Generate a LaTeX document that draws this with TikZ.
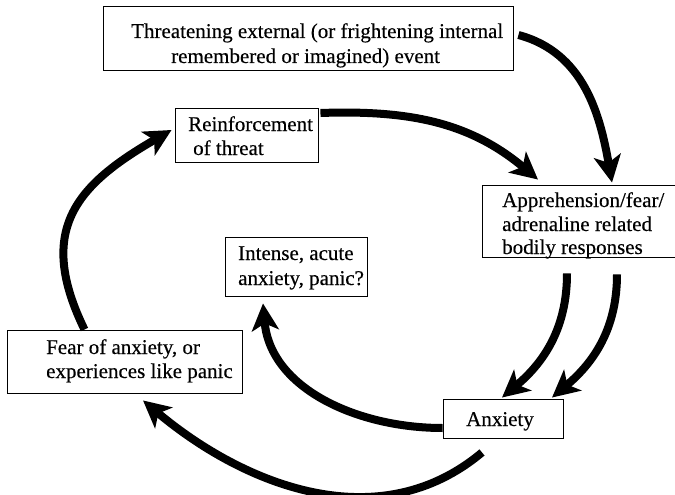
\documentclass[tikz,border=0pt]{standalone}
\usepackage{fontspec}
\setmainfont{Liberation Serif}
\newfontfamily\boxfont{Liberation Serif}[FakeBold=0.35]
\usetikzlibrary{arrows.meta}
\begin{document}
\begin{tikzpicture}[x=1pt,y=-1pt,
  box/.style={draw, line width=0.9pt, rectangle, inner sep=0pt},
  txt/.style={anchor=base west, inner sep=0pt, font=\boxfont\fontsize{21}{25}\selectfont},
  flow/.style={line width=8pt, -{Stealth[length=27pt,width=27pt,inset=7pt]}}]
\useasboundingbox (0,0) rectangle (675,495);

% boxes
\node[box, minimum width=410pt, minimum height=64pt] (event)   at (308,38)    {};
\node[box, minimum width=143pt, minimum height=54pt] (reinf)   at (246.5,135) {};
\node[box, minimum width=218pt, minimum height=72pt] (appr)    at (591,221)   {};
\node[box, minimum width=142pt, minimum height=59pt] (intense) at (296,266.5) {};
\node[box, minimum width=235pt, minimum height=63pt] (fear)    at (124.5,361.5) {};
\node[box, minimum width=120pt, minimum height=39pt] (anx)     at (503,418.5) {};

% box texts
\node[txt] (event1) at (131,38) {Threatening external (or frightening internal};
\node[txt] (event2) at (171,63) {remembered or imagined) event};
\node[txt] (reinf1) at (188,131) {Reinforcement};
\node[txt] (reinf2) at (193,155) {of threat};
\node[txt] (appr1) at (502,207) {Apprehension/fear/};
\node[txt] (appr2) at (502,231) {adrenaline related};
\node[txt] (appr3) at (502,254) {bodily responses};
\node[txt] (intense1) at (238,260) {Intense, acute};
\node[txt] (intense2) at (238,285) {anxiety, panic?};
\node[txt] (fear1) at (46,354) {Fear of anxiety, or};
\node[txt] (fear2) at (46,378) {experiences like panic};
\node[txt] (anx1) at (466,426) {Anxiety};

% connectors
\draw[flow] ([xshift=5pt,yshift=3pt]event.east) to[out=-15,in=100]
  ([xshift=21pt,yshift=2pt]appr.north);
\draw[flow] ([xshift=2pt,yshift=22pt]reinf.east) to[out=2,in=140]
  ([xshift=-53pt,yshift=5pt]appr.north);
\draw[flow] ([xshift=-40pt]fear.north) to[out=116,in=-150,looseness=1.3]
  ([xshift=-3pt,yshift=5pt]reinf.west);
\draw[flow] ([xshift=-24pt,yshift=-16pt]appr.south) to[out=-90,in=40]
  ([xshift=-1pt,yshift=1pt]anx.north);
\draw[flow] ([xshift=26pt,yshift=-17pt]appr.south) to[out=-90,in=40]
  ([xshift=49pt,yshift=1pt]anx.north);
\draw[flow] ([yshift=-9.5pt]anx.west) to[out=180,in=-85]
  ([xshift=-33pt,yshift=-7pt]intense.south);
\draw[flow] ([xshift=-21pt,yshift=-14pt]anx.south) to[out=-140,in=-40,looseness=1.0]
  ([xshift=18.5pt,yshift=-7pt]fear.south);
\end{tikzpicture}
\end{document}
